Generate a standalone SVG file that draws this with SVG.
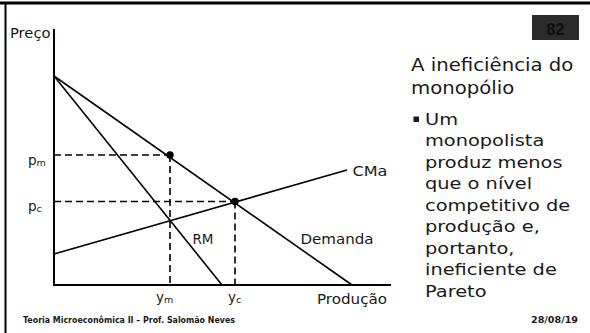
<svg xmlns="http://www.w3.org/2000/svg" width="590" height="333" viewBox="0 0 590 333">
<style>
.t{font-family:"DejaVu Sans","Liberation Sans",sans-serif;fill:#1a1a1a}
.ax{stroke:#000;stroke-width:2;fill:none}
.ln{stroke:#000;stroke-width:1.6;fill:none}
.ds{stroke:#000;stroke-width:1.6;fill:none;stroke-dasharray:7 4}
.lb{font-size:13.5px}
.body{font-size:15.5px}
</style>
<rect x="0" y="0" width="590" height="333" fill="#fff"/>
<g id="frame">
<line x1="0" y1="3" x2="590" y2="3" stroke="#000" stroke-width="3"/>
<line x1="5.5" y1="2" x2="5.5" y2="333" stroke="#000" stroke-width="2"/>
</g>
<g id="axes">
<line class="ax" x1="54" y1="29" x2="54" y2="285"/>
<line class="ax" x1="53" y1="285" x2="391" y2="285"/>
<text class="t lb" x="10" y="38" textLength="40.5" lengthAdjust="spacingAndGlyphs">Preço</text>
<text class="t lb" x="317" y="304" textLength="70" lengthAdjust="spacingAndGlyphs">Produção</text>
</g>
<g id="connectors">
<line class="ln" x1="54" y1="76" x2="352" y2="285"/>
<line class="ln" x1="54" y1="76" x2="222" y2="285"/>
<line class="ln" x1="54" y1="254" x2="347" y2="170"/>
<line class="ds" x1="54" y1="155" x2="170" y2="155"/>
<line class="ds" x1="54" y1="201.5" x2="235" y2="201.5"/>
<line class="ds" x1="170" y1="155" x2="170" y2="285"/>
<line class="ds" x1="235" y1="201.5" x2="235" y2="285"/>
</g>
<g id="monopoly-point"><circle cx="170" cy="155" r="3.7" fill="#000"/></g>
<g id="competitive-point"><circle cx="235" cy="201.5" r="3.7" fill="#000"/></g>
<g id="labels">
<text class="t lb" x="28" y="165">p<tspan font-size="9.5" dy="1">m</tspan></text>
<text class="t lb" x="28" y="211">p<tspan font-size="9.5" dy="1">c</tspan></text>
<text class="t lb" x="156" y="302">y<tspan font-size="9.5" dy="1">m</tspan></text>
<text class="t lb" x="228" y="302">y<tspan font-size="9.5" dy="1">c</tspan></text>
<text class="t lb" x="352.5" y="176" textLength="35" lengthAdjust="spacingAndGlyphs">CMa</text>
<text class="t lb" x="192.5" y="244" textLength="21" lengthAdjust="spacingAndGlyphs">RM</text>
<text class="t lb" x="300.5" y="244" textLength="73" lengthAdjust="spacingAndGlyphs">Demanda</text>
</g>
<g id="slide-number">
<rect x="532" y="15" width="47" height="25" fill="#2b2b2b"/>
<text x="555.5" y="35" text-anchor="middle" font-family="Liberation Sans,Arial,sans-serif" font-weight="bold" font-size="16" fill="#0d0d0d">82</text>
</g>
<g id="text-block">
<g transform="translate(411,0) scale(1.065,1)">
<text class="t" font-size="18.5" x="0" y="71">A ineficiência do</text>
<text class="t" font-size="18.5" x="0" y="94">monopólio</text>
</g>
<rect x="413.5" y="116.5" width="5.5" height="5.5" fill="#1a1a1a"/>
<g transform="translate(425,0) scale(1.25,1)">
<text class="t body" x="0">
<tspan x="0" y="125">Um</tspan>
<tspan x="0" y="146.5">monopolista</tspan>
<tspan x="0" y="168">produz menos</tspan>
<tspan x="0" y="189.5">que o nível</tspan>
<tspan x="0" y="211">competitivo de</tspan>
<tspan x="0" y="232.5">produção e,</tspan>
<tspan x="0" y="254">portanto,</tspan>
<tspan x="0" y="275.5">ineficiente de</tspan>
<tspan x="0" y="297">Pareto</tspan>
</text>
</g>
</g>
<g id="footer">
<text class="t" x="23" y="323" font-size="8.5" font-weight="bold" textLength="212" lengthAdjust="spacingAndGlyphs">Teoria Microeconômica II – Prof. Salomão Neves</text>
<text class="t" x="531" y="323" font-size="8.5" font-weight="bold" textLength="47" lengthAdjust="spacingAndGlyphs">28/08/19</text>
</g>
</svg>
